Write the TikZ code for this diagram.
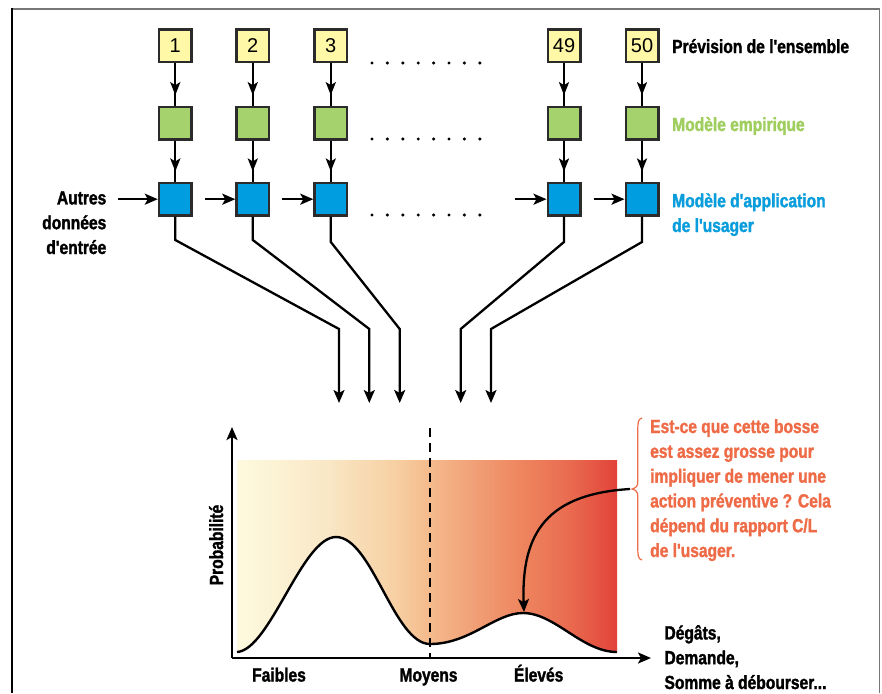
\documentclass[tikz,border=0pt]{standalone}
\usepackage{fontspec}
\setmainfont{Liberation Sans}
\newfontfamily\cf{Liberation Sans}[FakeStretch=0.82, BoldFeatures={FakeBold=1.6}]
\newfontfamily\nf{Liberation Sans}
\usetikzlibrary{arrows.meta,decorations.markings,calc}
\definecolor{yfill}{HTML}{FFF8A6}
\definecolor{gfill}{HTML}{A5D26C}
\definecolor{bfill}{HTML}{009EE0}
\definecolor{bdr}{HTML}{2B2B2B}
\definecolor{gtext}{HTML}{9FCE5E}
\definecolor{btext}{HTML}{0A9DDB}
\definecolor{otext}{HTML}{EE6B47}
\definecolor{frgray}{HTML}{777777}
\definecolor{h0}{HTML}{FEFADF}
\definecolor{h1}{HTML}{F9E7C5}
\definecolor{h2}{HTML}{F7CFA2}
\definecolor{h3}{HTML}{F5BC8D}
\definecolor{h4}{HTML}{F1A077}
\definecolor{h5}{HTML}{EE8760}
\definecolor{h6}{HTML}{EA6E52}
\definecolor{h7}{HTML}{E55743}
\definecolor{h8}{HTML}{E2413A}
\pgfdeclarehorizontalshading{heat}{100bp}{color(0bp)=(h0); color(25bp)=(h0); color(37bp)=(h1); color(46bp)=(h2); color(50bp)=(h3); color(56bp)=(h4); color(62bp)=(h5); color(68bp)=(h6); color(72bp)=(h7); color(75bp)=(h8); color(100bp)=(h8)}
\tikzset{
  box/.style={draw=bdr, line width=2.5pt, minimum size=32.5pt, inner sep=0pt, font=\nf\fontsize{20}{20}\selectfont},
  yb/.style={box, fill=yfill},
  gb/.style={box, fill=gfill},
  bb/.style={box, fill=bfill},
  conn/.style={line width=2.3pt, draw=black},
  tipstyle/.style={-{Stealth[length=13pt,width=11pt,inset=3pt]}},
  arr/.style={conn, tipstyle},
  midarr/.style={conn, postaction={decorate}, decoration={markings, mark=at position 0.75 with {\arrow{Stealth[length=13pt,width=10pt,inset=3pt]}}}},
  lbl/.style={inner sep=0pt, font=\cf\bfseries\fontsize{19}{24.8}\selectfont},
  dotmark/.style={fill=black}
}
\begin{document}
\begin{tikzpicture}[x=1pt,y=-1pt]
\useasboundingbox (0,0) rectangle (882,693);
% frame
\draw[frgray, line width=1.5pt] (12,9) -- (879.5,9) -- (879.5,693);
\draw[black, line width=1.5pt] (12,8.5) -- (12,693);

% boxes
\foreach \n/\x/\t in {1/175.3/1, 2/252.8/2, 3/330.8/3, 49/564/49, 50/642/50}{
  \node[yb] (y\n) at (\x,45.8) {\t};
  \node[gb] (g\n) at (\x,123.3) {};
  \node[bb] (b\n) at (\x,199.2) {};
  \draw[midarr] (y\n.south) -- (g\n.north);
  \draw[midarr] (g\n.south) -- (b\n.north);
}
% dots
\foreach \yy in {63,139,215}{
  \foreach \i in {0,...,7}{
    \fill[dotmark] (372+15.4*\i,\yy) circle (1.7);
  }
}
% horizontal arrows
\coordinate (in0) at (118,199.2);
\draw[arr] (in0) -- (b1.west);
\draw[arr] ($(b1.east)+(12,0)$) -- (b2.west);
\draw[arr] ($(b2.east)+(12,0)$) -- (b3.west);
\draw[arr] ($(b49.west)+(-32,0)$) -- (b49.west);
\draw[arr] ($(b49.east)+(12,0)$) -- (b50.west);

% labels right
\node[lbl, anchor=base west] (tprev) at (672,53) {Prévision de l'ensemble};
\node[lbl, anchor=base west, text=gtext] (temp) at (672,131) {Modèle empirique};
\node[lbl, anchor=base west, text=btext, align=left] (tapp) at (672,232) {Modèle d'application\\de l'usager};
\node[lbl, anchor=base east, align=right] (tautres) at (106.5,254) {Autres\\données\\d'entrée};

% converging lines
\coordinate (e1) at (339,403);
\coordinate (e2) at (369.3,403);
\coordinate (e3) at (399.7,403);
\coordinate (e49) at (460.7,403);
\coordinate (e50) at (491,403);
\draw[arr, line join=miter] (b1.south) -- (175.3,240) -- (339,329) -- (e1);
\draw[arr, line join=miter] (b2.south) -- (252.8,240) -- (369.3,329) -- (e2);
\draw[arr, line join=miter] (b3.south) -- (330.8,242) -- (399.7,329) -- (e3);
\draw[arr, line join=miter] (b49.south) -- (564,242) -- (460.7,329) -- (e49);
\draw[arr, line join=miter] (b50.south) -- (642,242) -- (491,329) -- (e50);

% chart
\shade[shading=heat] (237,460) -- (237,652)
  .. controls (270,650) and (302,537) .. (336,537)
  .. controls (372,537) and (394,644) .. (430,644)
  .. controls (470,644) and (495,613) .. (523,613)
  .. controls (555,613) and (582,652) .. (617,652)
  -- (617,460) -- cycle;
\draw[line width=2.4pt] (237,652)
  .. controls (270,650) and (302,537) .. (336,537)
  .. controls (372,537) and (394,644) .. (430,644)
  .. controls (470,644) and (495,613) .. (523,613)
  .. controls (555,613) and (582,652) .. (617,652);
\coordinate (orig) at (232,658);
\coordinate (ytop) at (232,427);
\coordinate (xend) at (651,658);
\draw[arr] (orig) -- (ytop);
\draw[arr] (orig) -- (xend);
\coordinate (dtop) at (430,428);
\coordinate (dbot) at (430,658);
\draw[line width=1.8pt, dash pattern=on 9pt off 6pt] (dtop) -- (dbot);

\node[lbl, anchor=base] (tfai) at (279,681.5) {Faibles};
\node[lbl, anchor=base] (tmoy) at (428.5,681.5) {Moyens};
\node[lbl, anchor=base] (tele) at (538.7,681.5) {Élevés};
\node[lbl, anchor=base, rotate=90] (tprob) at (223,545) {Probabilité};
\node[lbl, anchor=base west, align=left] (tdeg) at (664.3,689) {Dégâts,\\Demande,\\Somme à débourser...};

% annotation
\node[lbl, anchor=base west, align=left, text=otext] (tann) at (650,557) {Est-ce que cette bosse\\est assez grosse pour\\impliquer de mener une\\action préventive ? Cela\\dépend du rapport C/L\\de l'usager.};
\draw[otext, line width=1.2pt] (642,418) .. controls (638.5,419) and (637.8,422) .. (637.8,428)
  -- (637.8,482) .. controls (637.8,486) and (636,488) .. (632,489)
  .. controls (636,490) and (637.8,492) .. (637.8,496)
  -- (637.8,550) .. controls (637.8,556) and (638.5,559) .. (642,560);
\coordinate (tip) at (630,489);
\coordinate (bump) at (524,612);
\draw[arr] (tip) .. controls (548,494) and (521,532) .. (bump);
\end{tikzpicture}
\end{document}
